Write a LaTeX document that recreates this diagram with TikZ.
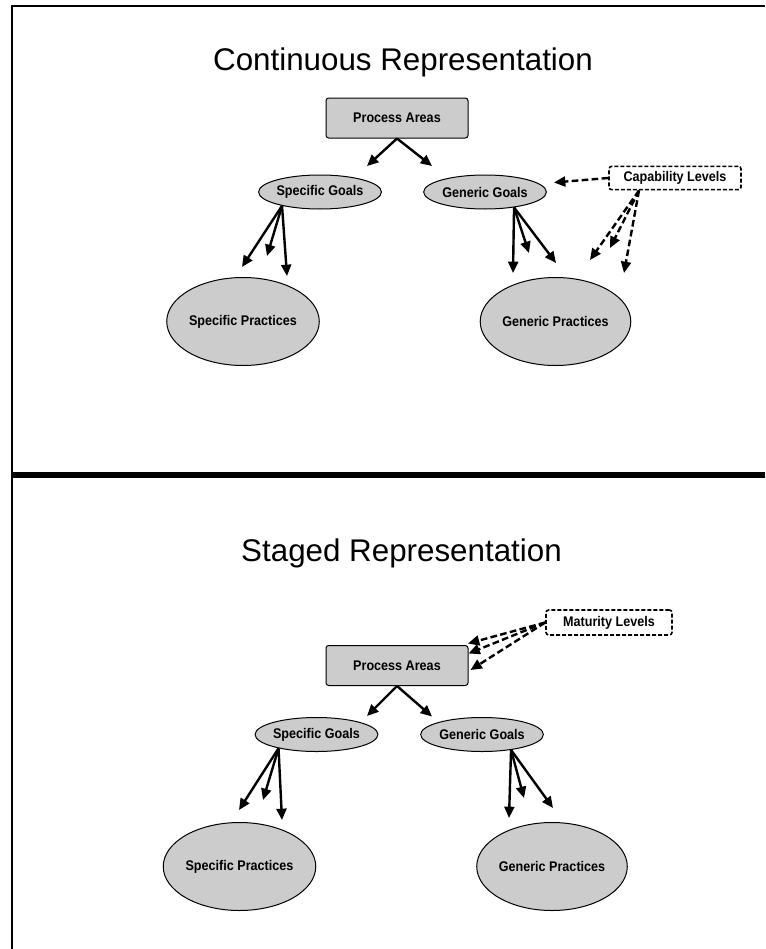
\documentclass[tikz,border=0pt]{standalone}
\usepackage{fontspec}
\setmainfont{Liberation Sans}
\newfontfamily\labelfont{Liberation Sans}[FakeStretch=0.9]
\usetikzlibrary{shapes.geometric,arrows.meta}

\begin{document}
\begin{tikzpicture}[x=0.75pt,y=-0.75pt,
  title/.style={font=\fontsize{23.5}{28}\selectfont},
  area/.style={draw, fill=black!20, rounded corners=2pt, line width=0.75pt,
    minimum width=106.5pt, minimum height=30pt, inner sep=0pt,
    font=\labelfont\bfseries\fontsize{10.5}{12}\selectfont},
  goal/.style={ellipse, draw, fill=black!20, line width=0.75pt,
    minimum width=92pt, minimum height=25.5pt, inner sep=0pt,
    font=\labelfont\bfseries\fontsize{10.5}{12}\selectfont},
  practice/.style={goal, minimum width=99pt, minimum height=66pt},
  level/.style={draw, dashed, dash pattern=on 3pt off 1.5pt, rounded corners=2pt,
    line width=1.2pt, minimum height=17.5pt, inner sep=0pt,
    font=\labelfont\bfseries\fontsize{10.5}{12}\selectfont},
  conn/.style={-{Triangle[length=8.5pt,width=7.5pt]}, line width=1.8pt},
  lvlconn/.style={conn, dash pattern=on 5pt off 2.5pt}]
%\draw [lightgray, ultra thin] (0,0) grid [step=50] (765,949);
\useasboundingbox (0,0) rectangle (765,949);

\draw [line width=1.3pt] (765,6) -- (12,6) -- (12,949);
\draw [line width=4.5pt] (12,475) -- (765,475);

\node [title, anchor=base] (ctitle) at (403,70) {Continuous Representation};
\node [area] (cpa) at (397,118) {Process Areas};
\node [goal] (csg) at (320,192) {Specific Goals};
\node [goal] (cgg) at (485,192) {Generic Goals};
\node [level, minimum width=99pt] (ccl) at (675,178) {Capability Levels};
\node [practice] (csp) at (243,321.5) {Specific Practices};
\node [practice] (cgp) at (555.5,321.5) {Generic Practices};

\coordinate (csg-in) at (367,166);
\coordinate (cgg-in) at (432,166);
\coordinate (csp-a) at (242,267);
\coordinate (csp-b) at (267,256);
\coordinate (csp-c) at (287,276);
\coordinate (cgp-a) at (513,273);
\coordinate (cgp-b) at (529,253);
\coordinate (cgp-c) at (556,263);
\coordinate (ccl-gg) at (554,182.5);
\coordinate (ccl-a) at (590,260);
\coordinate (ccl-b) at (610,248);
\coordinate (ccl-c) at (624,273);

\draw [conn] (cpa.south) -- (csg-in);
\draw [conn] (cpa.south) -- (cgg-in);
\draw [conn] (csg.200) -- (csp-a);
\draw [conn] (csg.200) -- (csp-b);
\draw [conn] (csg.200) -- (csp-c);
\draw [conn] (cgg.-28) -- (cgp-a);
\draw [conn] (cgg.-28) -- (cgp-b);
\draw [conn] (cgg.-28) -- (cgp-c);
\draw [lvlconn] (ccl.west) -- (ccl-gg);
\draw [lvlconn] ([xshift=-27pt]ccl.south) -- (ccl-a);
\draw [lvlconn] ([xshift=-27pt]ccl.south) -- (ccl-b);
\draw [lvlconn] ([xshift=-27pt]ccl.south) -- (ccl-c);

\node [title, anchor=base] (stitle) at (401.5,561) {Staged Representation};
\node [level, minimum width=94.5pt, minimum height=18.75pt] (sml) at (609,622.5) {Maturity Levels};
\node [area] (spa) at (397,665.5) {Process Areas};
\node [goal] (ssg) at (316.5,734.5) {Specific Goals};
\node [goal] (sgg) at (482,734.5) {Generic Goals};
\node [practice] (ssp) at (239.5,866.5) {Specific Practices};
\node [practice] (sgp) at (552,866.5) {Generic Practices};

\coordinate (sml-a) at (468,643.5);
\coordinate (sml-b) at (468.5,653.5);
\coordinate (sml-c) at (470.5,670);
\coordinate (ssg-in) at (367,716);
\coordinate (sgg-in) at (432,716.5);
\coordinate (ssp-a) at (239,810);
\coordinate (ssp-b) at (263,800);
\coordinate (ssp-c) at (282,820);
\coordinate (sgp-a) at (509,818);
\coordinate (sgp-b) at (524,798);
\coordinate (sgp-c) at (553,808);

\draw [lvlconn] (sml.west) -- (sml-a);
\draw [lvlconn] (sml.west) -- (sml-b);
\draw [lvlconn] (sml.west) -- (sml-c);
\draw [conn] (spa.south) -- (ssg-in);
\draw [conn] (spa.south) -- (sgg-in);
\draw [conn] (ssg.200) -- (ssp-a);
\draw [conn] (ssg.200) -- (ssp-b);
\draw [conn] (ssg.200) -- (ssp-c);
\draw [conn] (sgg.-28) -- (sgp-a);
\draw [conn] (sgg.-28) -- (sgp-b);
\draw [conn] (sgg.-28) -- (sgp-c);
\end{tikzpicture}
\end{document}
